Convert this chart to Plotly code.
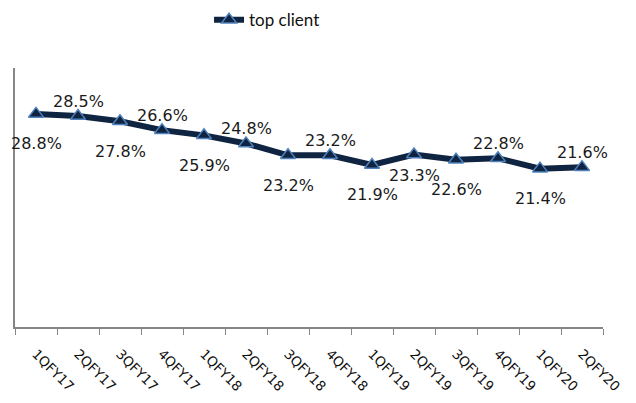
import plotly.graph_objects as go

quarters = ["1QFY17", "2QFY17", "3QFY17", "4QFY17", "1QFY18", "2QFY18", "3QFY18",
            "4QFY18", "1QFY19", "2QFY19", "3QFY19", "4QFY19", "1QFY20", "2QFY20"]
top_client = [28.8, 28.5, 27.8, 26.6, 25.9, 24.8, 23.2, 23.2, 21.9, 23.3, 22.6, 22.8, 21.4, 21.6]
# where each data label sits relative to its point
label_side = ["below", "above", "below", "above", "below", "above", "below",
              "above", "below", "near", "below", "above", "below", "above"]
shift = {"above": 15, "below": -30, "near": -21}

fig = go.Figure()
fig.add_trace(go.Scatter(
    x=quarters,
    y=top_client,
    name="top client",
    mode="lines+markers",
    line=dict(color="#0f2440", width=6),
    marker=dict(symbol="triangle-up", size=13, color="#0f2440",
                line=dict(color="#4f81bd", width=1.5)),
))

for q, v, side in zip(quarters, top_client, label_side):
    fig.add_annotation(
        x=q, y=v, text=f"{v:.1f}%", showarrow=False, yshift=shift[side],
        font=dict(family="DejaVu Sans", size=16, color="#1a1a1a"),
    )

fig.update_layout(
    width=636,
    height=403,
    margin=dict(l=15, r=33, t=68, b=76),
    paper_bgcolor="white",
    plot_bgcolor="white",
    showlegend=True,
    legend=dict(orientation="h", x=0.33, xanchor="left", yref="container",
                y=0.95, yanchor="middle",
                font=dict(family="Lato", size=17, color="#111")),
    xaxis=dict(
        range=[-0.5, 13.5], automargin=False,
        showline=True, linecolor="#868686", linewidth=1.5,
        ticks="outside", tickson="boundaries", ticklen=6, tickcolor="#868686",
        tickangle=45, showgrid=False,
        tickfont=dict(family="DejaVu Sans", size=13.5, color="#111"),
        ticklabelstandoff=12,
    ),
    yaxis=dict(
        range=[0, 35], showline=True, linecolor="#868686", linewidth=1.5,
        showticklabels=False, showgrid=False, zeroline=False, ticks="",
        automargin=False,
    ),
)

# the page's default body margin would push the figure off by 8px
fig.write_html("out.html", config={"displayModeBar": False},
               post_script="document.body.style.margin = '0';")
